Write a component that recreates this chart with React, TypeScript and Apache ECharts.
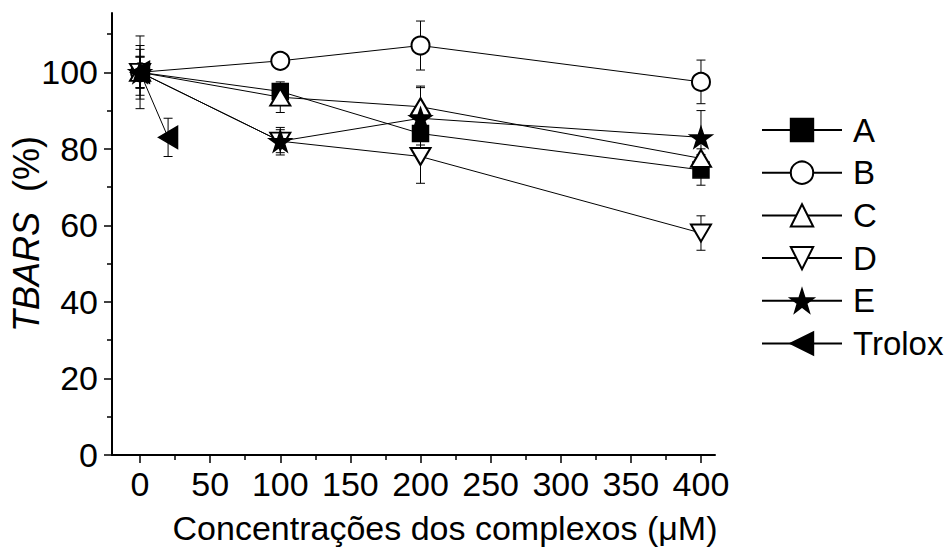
import React, { useEffect, useRef } from "react";
import * as echarts from "echarts";

const concentrations = [0, 100, 200, 400];
const seriesNames = ["A", "B", "C", "D", "E", "Trolox"];
const valuesA = [100, 95, 84, 74.5];
const errorsA = [4, 2, 3, 4];
const valuesB = [100, 103, 107, 97.5];
const errorsB = [9.5, 2, 6.4, 5.7];
const valuesC = [100, 93.5, 91, 77.5];
const errorsC = [6, 4, 5.4, 2.5];
const valuesD = [100, 82, 78, 58];
const errorsD = [7, 3.6, 7, 4.5];
const valuesE = [100, 82, 88, 83];
const errorsE = [4.2, 3, 8, 7];
const troloxConcentrations = [0, 20];
const troloxValues = [100, 83];
const troloxErrors = [4, 5];

const xTicks = [0, 50, 100, 150, 200, 250, 300, 350, 400];
const xMinorTicks = [25, 75, 125, 175, 225, 275, 325, 375];
const yTicks = [0, 20, 40, 60, 80, 100];
const yMinorTicks = [10, 30, 50, 70, 90, 110];

const FONT = "'Liberation Sans', Arial, sans-serif";
const STAR =
  "path://M50,0 L61.8,35.3 L98.9,35.3 L68.9,57.1 L80.3,92.7 L50,70.9 L19.7,92.7 L31.1,57.1 L1.1,35.3 L38.2,35.3 Z";

type Spec = {
  name: string;
  xs: number[];
  ys: number[];
  errs: number[];
  symbol: string;
  size: number | number[];
  rotate: number;
};

const specs: Spec[] = [
  { name: seriesNames[0], xs: concentrations, ys: valuesA, errs: errorsA, symbol: "rect", size: 16, rotate: 0 },
  { name: seriesNames[1], xs: concentrations, ys: valuesB, errs: errorsB, symbol: "emptyCircle", size: 18, rotate: 0 },
  { name: seriesNames[2], xs: concentrations, ys: valuesC, errs: errorsC, symbol: "emptyTriangle", size: [20, 17], rotate: 0 },
  { name: seriesNames[3], xs: concentrations, ys: valuesD, errs: errorsD, symbol: "emptyTriangle", size: [20, 17], rotate: 180 },
  { name: seriesNames[4], xs: concentrations, ys: valuesE, errs: errorsE, symbol: STAR, size: 22, rotate: 0 },
  { name: seriesNames[5], xs: troloxConcentrations, ys: troloxValues, errs: troloxErrors, symbol: "triangle", size: [22, 19], rotate: 90 },
];

export default function App() {
  const ref = useRef<HTMLDivElement>(null);

  useEffect(() => {
    if (!ref.current) return;
    const chart = echarts.init(ref.current, null, { renderer: "svg" });

    const errorSeries = specs.map((s) => ({
      type: "custom",
      name: s.name + "-err",
      z: 1,
      silent: true,
      encode: { x: 0, y: 1 },
      data: s.xs.map((x, i) => [x, s.ys[i], s.errs[i]]),
      renderItem: (params: any, api: any) => {
        const x = api.value(0);
        const y = api.value(1);
        const e = api.value(2);
        const top = api.coord([x, y + e]);
        const bot = api.coord([x, y - e]);
        const hw = 4.5;
        const st = { stroke: "#000", lineWidth: 1 };
        return {
          type: "group",
          children: [
            { type: "line", shape: { x1: top[0], y1: top[1], x2: bot[0], y2: bot[1] }, style: st },
            { type: "line", shape: { x1: top[0] - hw, y1: top[1], x2: top[0] + hw, y2: top[1] }, style: st },
            { type: "line", shape: { x1: bot[0] - hw, y1: bot[1], x2: bot[0] + hw, y2: bot[1] }, style: st },
          ],
        };
      },
    }));

    const lineSeries = specs.map((s) => ({
      type: "line",
      name: s.name,
      z: 2,
      data: s.xs.map((x, i) => [x, s.ys[i]]),
      symbol: s.symbol,
      symbolSize: s.size,
      symbolRotate: s.rotate,
      symbolKeepAspect: true,
      showAllSymbol: true,
      lineStyle: { color: "#000", width: 1 },
      itemStyle: { color: "#000", borderColor: "#000", borderWidth: 1.5 },
    }));

    const rowTop = 127.5;
    const rowStep = 42.7;
    const legends = seriesNames.map((n, i) => ({
      data: [n],
      orient: "vertical",
      left: 761,
      top: rowTop + rowStep * i - 14,
      padding: 0,
      itemWidth: 80,
      itemHeight: 28,
      selectedMode: false,
      textStyle: { fontSize: 33, fontFamily: FONT, color: "#000", lineHeight: 28, padding: [0, 0, 0, 6] },
    }));

    const axisLine = { show: true, onZero: false, lineStyle: { color: "#000", width: 2 } };

    chart.setOption({
      animation: false,
      backgroundColor: "#fff",
      legend: legends,
      grid: { left: 112, top: 13, right: 236, bottom: 96, containLabel: false, outerBoundsMode: "none" },
      xAxis: [
        {
          type: "value",
          min: -20,
          max: 410,
          axisLine,
          splitLine: { show: false },
          axisTick: { show: true, length: 8, customValues: xTicks, lineStyle: { color: "#000", width: 1.5 } },
          axisLabel: { customValues: xTicks, fontSize: 34, fontFamily: FONT, color: "#000", margin: 12 },
          name: "Concentrações dos complexos (μM)",
          nameLocation: "middle",
          nameGap: 56,
          nameMoveOverlap: false,
          nameTextStyle: { fontSize: 34, fontFamily: FONT, color: "#000", padding: [0, 0, 0, 63] },
        },
        {
          type: "value",
          min: -20,
          max: 410,
          position: "bottom",
          axisLine: { show: false, onZero: false },
          splitLine: { show: false },
          axisTick: { show: true, length: 5, customValues: xMinorTicks, lineStyle: { color: "#000", width: 1.5 } },
          axisLabel: { show: false },
        },
      ],
      yAxis: [
        {
          type: "value",
          min: 0,
          max: 115.5,
          axisLine,
          splitLine: { show: false },
          axisTick: { show: true, length: 8, customValues: yTicks, lineStyle: { color: "#000", width: 1.5 } },
          axisLabel: { customValues: yTicks, fontSize: 34, fontFamily: FONT, color: "#000", margin: 14 },
          name: "{i|TBARS}  (%)",
          nameLocation: "middle",
          nameRotate: 90,
          nameGap: 68,
          nameMoveOverlap: false,
          nameTextStyle: {
            fontSize: 36,
            fontFamily: FONT,
            color: "#000",
            rich: { i: { fontStyle: "italic", fontSize: 36, fontFamily: FONT, color: "#000" } },
          },
        },
        {
          type: "value",
          min: 0,
          max: 115.5,
          position: "left",
          axisLine: { show: false, onZero: false },
          splitLine: { show: false },
          axisTick: { show: true, length: 5, customValues: yMinorTicks, lineStyle: { color: "#000", width: 1.5 } },
          axisLabel: { show: false },
        },
      ],
      series: [...errorSeries, ...lineSeries],
    });

    return () => chart.dispose();
  }, []);

  return (
    <div
      ref={ref}
      style={{ position: "absolute", left: 0, top: 0, width: 951, height: 551, background: "#fff" }}
    />
  );
}
